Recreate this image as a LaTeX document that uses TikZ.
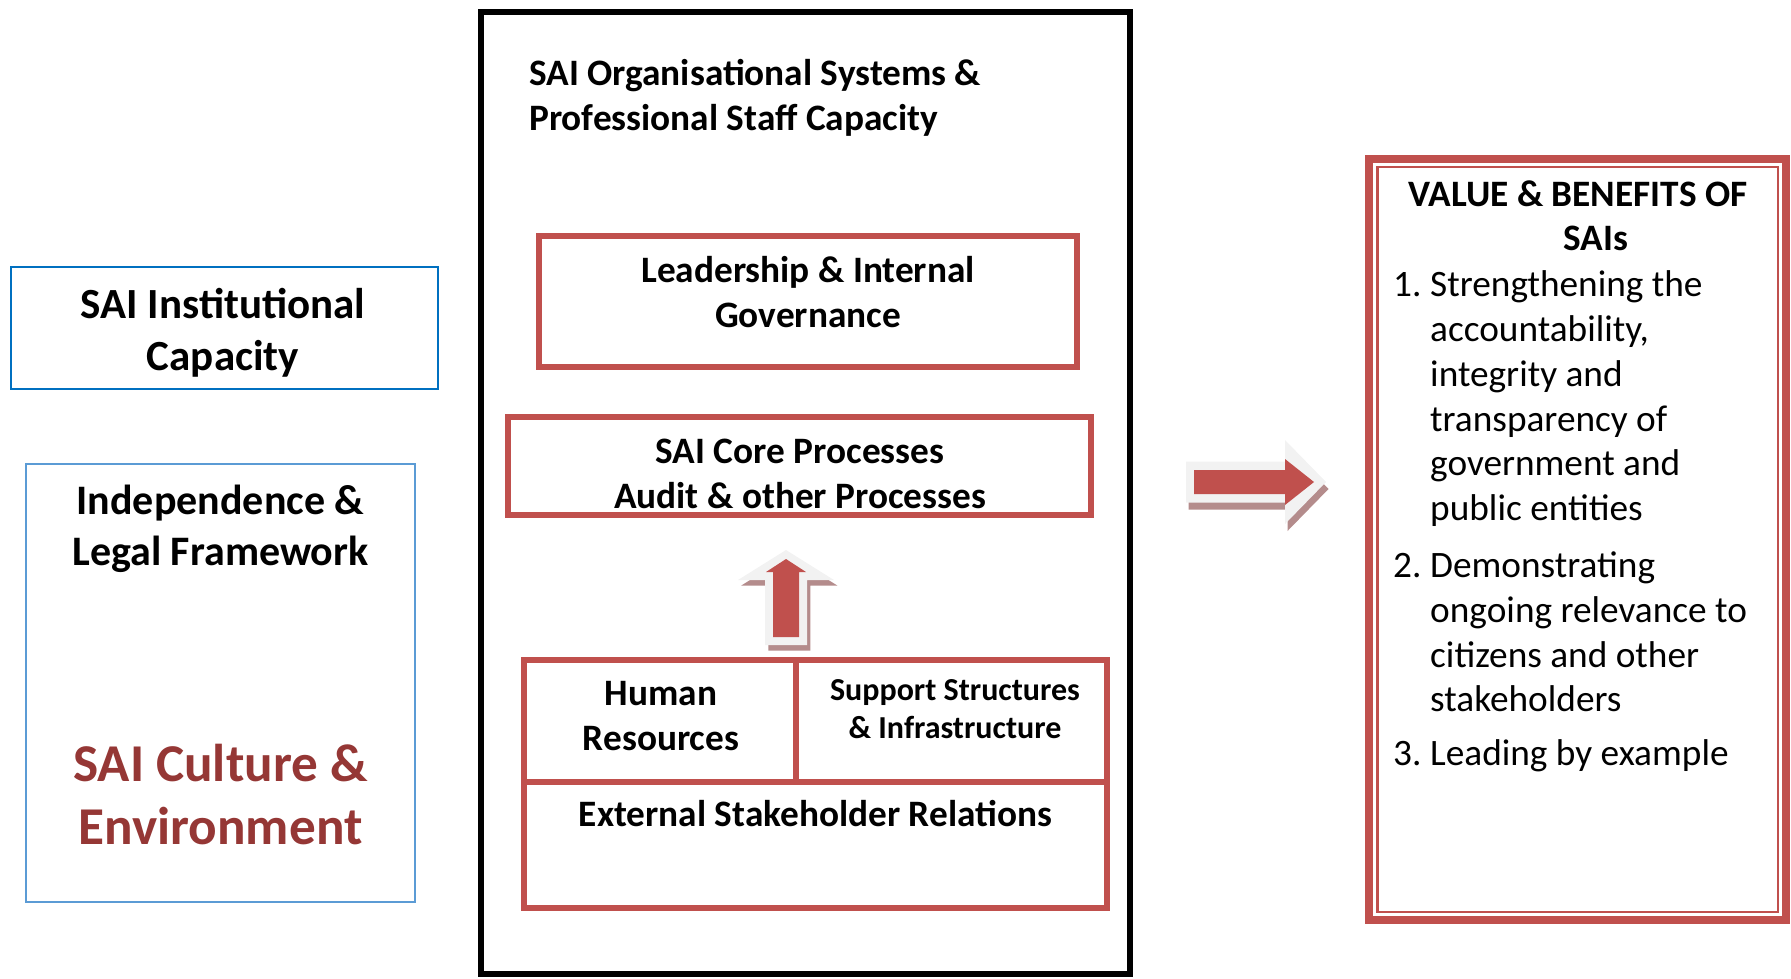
\documentclass[tikz,border=0pt]{standalone}
\usepackage{fontspec}
\setmainfont{Carlito}
\usepackage{array}
\definecolor{saired}{HTML}{C0504D}
\definecolor{saidarkred}{HTML}{953735}
\definecolor{saiblue}{HTML}{0070C0}
\definecolor{saipaleblue}{HTML}{5B9BD5}
\definecolor{arrowrim}{HTML}{F2F2F2}
\definecolor{arrowshade}{RGB}{180,140,140}
\tikzset{
  box/.style={draw, inner sep=0pt, outer sep=0pt},
  redbox/.style={box, draw=saired, line width=6pt},
  txt/.style={inner sep=0pt, anchor=base, align=center, font=\bfseries\fontsize{37.3}{45}\selectfont},
}
\begin{document}
\begin{tikzpicture}[x=1pt,y=-1pt]
\def\uprim{(765,645) -- (765,580) -- (738,580) -- (786,550) -- (834,580) -- (807,580) -- (807,645) -- cycle}
\def\upcore{(773,637) -- (773,572) -- (766,572) -- (786,559) -- (806,572) -- (799,572) -- (799,637) -- cycle}
\def\rightrim{(1186,461.5) -- (1285,461.5) -- (1285,440) -- (1326,482) -- (1285,524) -- (1285,502.5) -- (1186,502.5) -- cycle}
\def\rightcore{(1194,470) -- (1285,470) -- (1285,459) -- (1314,482) -- (1285,505) -- (1285,494) -- (1194,494) -- cycle}
\useasboundingbox (0,0) rectangle (1791,978);

% left column (text anchored on the baseline of its last line)
\node[box, draw=saiblue, line width=2.5pt, minimum width=427pt, minimum height=122pt] (inst) at (224.5,328) {};
\node[txt, font=\bfseries\fontsize{43}{51.7}\selectfont] (insttext) at (223,370.5) {SAI Institutional\\Capacity};
\node[box, draw=saipaleblue, line width=1.5pt, minimum width=389pt, minimum height=438pt] (legal) at (220.5,683) {};
\node[txt, font=\bfseries\fontsize{42}{51}\selectfont] (legaltext) at (220.5,565.3) {Independence \&\\Legal Framework};
\node[txt, text=saidarkred, font=\bfseries\fontsize{53.2}{63.3}\selectfont] (culture) at (220.5,844.3) {SAI Culture \&\\Environment};

% middle column
\node[box, draw=black, line width=6pt, minimum width=649pt, minimum height=962pt] (org) at (805.5,493) {};
\node[txt, anchor=base west, align=left] (orgtext) at (529,130.1) {SAI Organisational Systems \&\\Professional Staff Capacity};
\node[redbox, minimum width=538pt, minimum height=130.6pt] (lead) at (808,301.3) {};
\node[txt] (leadtext) at (808,327.7) {Leadership \& Internal\\Governance};
\node[redbox, minimum width=583pt, minimum height=98pt] (core) at (799.5,466) {};
\node[txt] (coretext) at (800,508) {SAI Core Processes\\Audit \& other Processes};
\node[redbox, minimum width=272pt, minimum height=122pt] (hr) at (660,721) {};
\node[txt] (hrtext) at (661,750.3) {Human\\Resources};
\node[redbox, minimum width=311pt, minimum height=122pt] (support) at (951.5,721) {};
\node[txt, font=\bfseries\fontsize{32}{38}\selectfont] (supporttext) at (955,738.5) {Support Structures\\\& Infrastructure};
\node[redbox, minimum width=583pt, minimum height=126pt] (external) at (815.5,845) {};
\node[txt] (externaltext) at (815.5,826) {External Stakeholder Relations};

% block arrows
\fill[arrowshade, shift={(3.3,5.5)}] \uprim;
\fill[arrowrim] \uprim;
\fill[saired] \upcore;
\fill[arrowshade, shift={(2.5,7)}] \rightrim;
\fill[arrowrim] \rightrim;
\fill[saired] \rightcore;

% right column
\node[box, draw=saired, line width=8pt, minimum width=417pt, minimum height=760.5pt] (value) at (1577.5,539.25) {};
\node[box, draw=saired, line width=2.5pt, minimum width=400.5pt, minimum height=745pt] (valueinner) at (value.center) {};
\node[txt, font=\bfseries\fontsize{37.3}{44}\selectfont] (valuetitle) at (1578,250.5) {VALUE \& BENEFITS OF\\\hspace*{36pt}SAIs};
\node[inner sep=0pt, anchor=base west, font=\fontsize{37.3}{44.8}\selectfont] (valuelist) at (1393,296.7) {%
  \begin{tabular}[t]{@{}p{37pt}@{}l@{}}
  1. & Strengthening the\\
     & accountability,\\
     & integrity and\\
     & transparency of\\
     & government and\\
     & public entities\\[12pt]
  2. & Demonstrating\\
     & ongoing relevance to\\
     & citizens and other\\
     & stakeholders\\[9pt]
  3. & Leading by example
  \end{tabular}};
\end{tikzpicture}
\end{document}
